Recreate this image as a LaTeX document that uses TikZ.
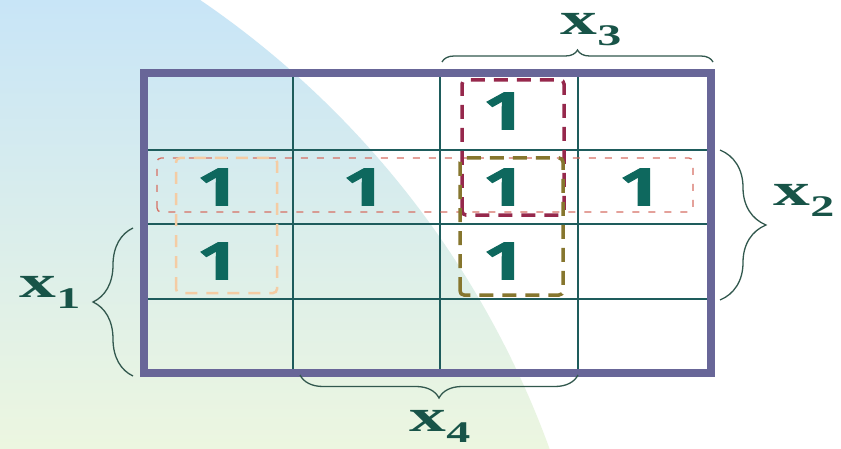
\documentclass[tikz,border=0pt]{standalone}
\usepackage{fontspec}
\usepackage{tikz}
\usetikzlibrary{decorations.pathreplacing, positioning}
\newfontfamily\onefont{Open Sans}[BoldFeatures={FakeBold=1.5}]
\newfontfamily\lblfont{Liberation Serif}[UprightFont=*-Bold]
\newcommand\onedigit{\scalebox{1.45}[1]{1}}
\newcommand\lsub[1]{\raisebox{-11pt}{\fontsize{30}{30}\selectfont #1}}
\newcommand\lblx[1]{\scalebox{1.6}[1]{x\lsub{#1}}}
\definecolor{SkyTop}{RGB}{200,229,247}
\definecolor{MintLow}{RGB}{236,246,224}
\definecolor{FrameSlate}{RGB}{104,102,152}
\definecolor{GridTeal}{RGB}{30,92,92}
\definecolor{OneTeal}{RGB}{14,104,94}
\definecolor{LblGreen}{RGB}{24,84,72}
\definecolor{BraceGreen}{RGB}{50,88,78}
\definecolor{GrpRed}{RGB}{214,112,100}
\definecolor{GrpMaroon}{RGB}{150,40,76}
\definecolor{GrpOlive}{RGB}{134,118,46}
\definecolor{GrpPeach}{RGB}{244,204,164}

\begin{document}
\begin{tikzpicture}[x=1pt, y=1pt,
    one/.style={text=OneTeal, font=\onefont\bfseries\fontsize{52}{52}\selectfont, inner sep=0pt},
    lbl/.style={text=LblGreen, font=\lblfont\fontsize{46}{46}\selectfont, inner sep=0pt},
    cellline/.style={draw=GridTeal, line width=1.6pt},
    grp/.style={dash pattern=on #1 off 9pt, rounded corners=4pt},
    curly/.style={decorate, decoration={brace, amplitude=#1}, draw=BraceGreen, line width=1.3pt}]
        % Background
        \useasboundingbox (0,0) rectangle (841,448);
        \fill[white] (0,0) rectangle (841,448);
        \begin{scope}
            \clip (-320,-317) circle (925);
            \shade[top color=SkyTop, bottom color=MintLow] (0,0) rectangle (841,448);
        \end{scope}

        % Map
        \foreach \x in {293,440,578}
            \draw[cellline] (\x,75) -- (\x,375);
        \foreach \y in {149,224,298}
            \draw[cellline] (144,\y) -- (711,\y);
        \draw[draw=FrameSlate, line width=8pt] (144,75) rectangle (711,375);

        % Nodes
        \node[one] (c13) at (504,337) {\onedigit};
        \node[one] (c21) at (218,261) {\onedigit};
        \node[one] (c22) at (364,261) {\onedigit};
        \node[one] (c23) at (504,261) {\onedigit};
        \node[one] (c24) at (640,261) {\onedigit};
        \node[one] (c31) at (218,187) {\onedigit};
        \node[one] (c33) at (504,187) {\onedigit};

        % Groups
        \draw[grp=7pt, GrpRed, line width=1.3pt] (157,236) rectangle (693,290);
        \draw[grp=14pt, GrpMaroon, line width=3.5pt] (462,233) rectangle (564,368);
        \draw[grp=14pt, GrpOlive, line width=3.5pt] (460,153) rectangle (563,290);
        \draw[grp=12pt, GrpPeach, line width=2.5pt] (176,155) rectangle (277,290);

        % Braces
        \coordinate (x1a) at (133,72);
        \coordinate (x1b) at (133,220);
        \coordinate (x2a) at (720,298);
        \coordinate (x2b) at (720,148);
        \coordinate (x3a) at (442,386);
        \coordinate (x3b) at (713,386);
        \coordinate (x4a) at (578,73);
        \coordinate (x4b) at (300,73);
        \draw[curly=40] (x1a) -- (x1b);
        \draw[curly=46] (x2a) -- (x2b);
        \draw[curly=12] (x3a) -- (x3b);
        \draw[curly=23] (x4a) -- (x4b);

        % Labels
        \node[lbl] (x1) at (50,156) {\lblx{1}};
        \node[lbl] (x2) at (804,248) {\lblx{2}};
        \node[lbl] (x3) at (591,418) {\lblx{3}};
        \node[lbl] (x4) at (440,22) {\lblx{4}};
    \end{tikzpicture}
\end{document}
